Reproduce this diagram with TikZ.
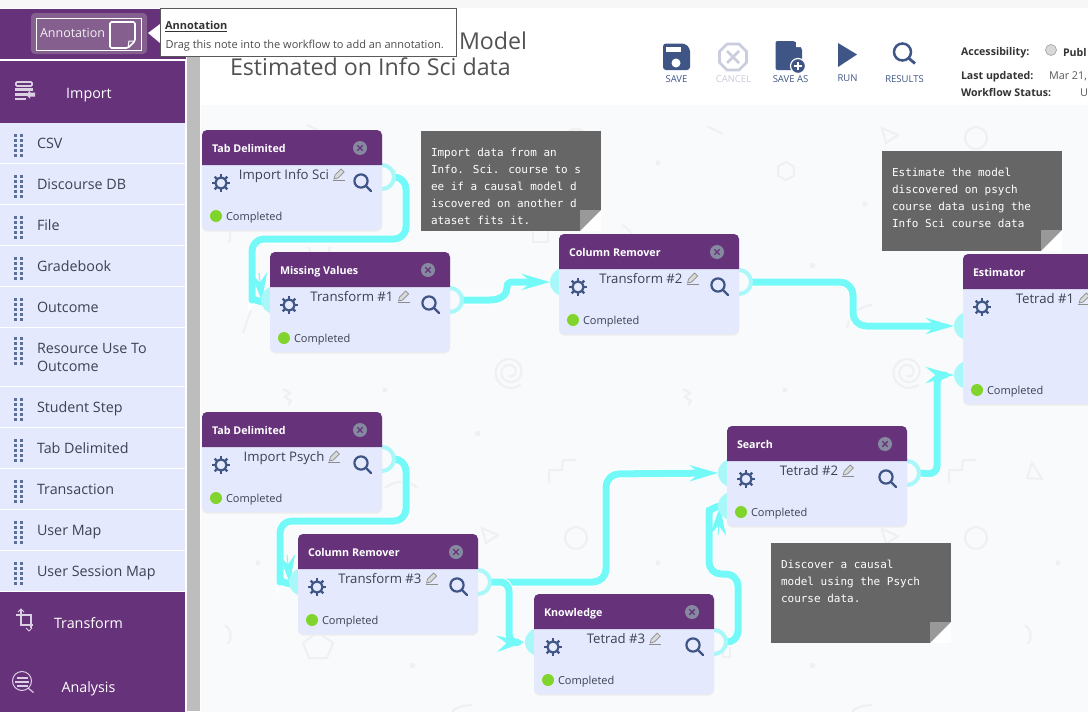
\documentclass[tikz,border=0pt]{standalone}
\usepackage{fontspec}
\setmainfont{Open Sans}
\newfontfamily\monof{DejaVu Sans Mono}
\usetikzlibrary{arrows.meta,calc}
\pgfdeclarelayer{base}
\pgfdeclarelayer{wires}
\pgfsetlayers{base,wires,main}
\definecolor{purp}{HTML}{66337A}
\definecolor{purplite}{HTML}{85608F}
\definecolor{rowc}{HTML}{E4E9FD}
\definecolor{bodyc}{HTML}{E5E9FD}
\definecolor{wirec}{HTML}{74F9F9}
\definecolor{portc}{HTML}{A8F7F9}
\definecolor{canvasc}{HTML}{F9FAFC}
\definecolor{decor}{HTML}{EFF0F1}
\definecolor{navy}{HTML}{3F5585}
\definecolor{dim}{HTML}{C9CDDD}
\definecolor{handlec}{HTML}{5B7099}
\definecolor{gutter}{HTML}{BDBDBD}
\definecolor{notec}{HTML}{666666}
\definecolor{foldc}{HTML}{999999}
\definecolor{closec}{HTML}{868AA0}
\definecolor{okc}{HTML}{80D42C}
\definecolor{txtc}{HTML}{3C4250}
\definecolor{sideic}{HTML}{DCCFE3}
\newcommand{\px}[1]{\fontsize{#1}{#1}\selectfont}
\tikzset{
  x=1pt,y=-1pt,
  txt/.style={inner sep=0pt,outer sep=0pt},
  wfbody/.style={txt,fill=bodyc,rounded corners=5pt,minimum width=180pt,anchor=north west},
  wftitle/.style={txt,anchor=base west,text=white,font=\px{10.7}\bfseries},
  wflabel/.style={txt,anchor=base,text=txtc,font=\px{13.2}},
  wfstatus/.style={txt,anchor=base west,text=txtc,font=\px{11}},
  okdot/.style={circle,fill=okc,minimum size=12pt,txt},
  closebtn/.style={circle,fill=closec,minimum size=14pt,txt},
  inport/.style={circle,fill=portc,minimum size=28pt,inner sep=0pt,outer sep=0pt},
  outport/.style={circle,draw=portc,line width=4pt,fill=canvasc,minimum size=24pt,inner sep=0pt,outer sep=0pt},
  wire/.style={draw=wirec,line width=7pt,preaction={draw=white,line width=9pt},line join=round},
  tipd/.style={-{Stealth[length=28pt,width=16pt,inset=9.5pt,fill=wirec]}},
  headonly/.style={draw=wirec,line width=1pt,tipd},
  icon/.style={draw=navy,line width=2.2pt},
  deco/.style={draw=decor,line width=2pt},
  decodot/.style={fill=decor},
  note/.style={txt,anchor=north west,align=left,text=white,font=\fontsize{11}{17}\selectfont\monof},
  sidetxt/.style={txt,anchor=base west,text=txtc,font=\px{14.3}},
  headtxt/.style={txt,anchor=base,text=white,font=\px{14.3}},
  toollab/.style={txt,anchor=base,font=\px{9.5}},
  info/.style={txt,anchor=base west,text=black!80,font=\px{10.6}\bfseries},
  infov/.style={txt,anchor=base west,text=black!65,font=\px{10.8}},
}
\newcommand{\wf}[6]{%
  \begin{scope}[shift={(#2,#3)}]
    \fill[black!7,rounded corners=5pt] (0,2) rectangle (180,#4+1.5);
    \node[wfbody,minimum height=#4pt] (#1) at (0,0) {};
    \fill[purp] (0,35) [rounded corners=5pt] -- (0,0) -- (180,0) [sharp corners] -- (180,35) -- cycle;
    \node[wftitle] (#1-t) at (10,22) {#5};
    \node[closebtn] (#1-x) at (158,18) {};
    \draw[purp,line width=1.4pt] (155.3,15.3) -- (160.7,20.7) (155.3,20.7) -- (160.7,15.3);
    \draw[icon] (19,53) circle (5.6pt);
    \foreach \a in {0,45,...,315} \draw[navy,line width=2.4pt] (19,53) ++(\a:5) -- ++(\a:4);
    \draw[icon] (159,51) circle (6.6pt);
    \draw[icon,line cap=round] (164,56) -- (169,61);
    \node[wflabel] (#1-l) at (82,49) {#6};
    \node[okdot] (#1-d) at (14,#4-14) {};
    \node[wfstatus] (#1-s) at (24,#4-10) {Completed};
  \end{scope}
  \begin{scope}[shift={(#1-l.base east)},xshift=10pt,yshift=5pt]
    \draw[black!45,fill=black!15,line width=.7pt] (-5,5) -- (-4,1) -- (2,-5) -- (5,-2) -- (-1,4) -- cycle;
    \draw[black!45,line width=.7pt] (-6,6.2) -- (6,6.2);
  \end{scope}
}
\newcommand{\rowbg}[4]{%
  \fill[rowc] (0,#1) rectangle (185,#2);
  \foreach \i in {1,...,#3} {
    \fill[handlec] (14,#4+\i*5-5) rectangle +(3,3.2);
    \fill[handlec] (20,#4+\i*5-5) rectangle +(3,3.2);
  }
}
\newcommand{\rowitem}[6]{%
  \rowbg{#2}{#3}{#5}{#6}
  \node[sidetxt] (#1) at (37,{(#2+#3)/2+5}) {#4};
}
\newcommand{\notebox}[5]{%
  \fill[notec] (#2,#3) rectangle ++(180,100);
  \fill[foldc] (#2+159,#3+100) -- ++(0,-21) -- ++(21,0) -- cycle;
  \fill[white] (#2+180,#3+79) -- ++(0,21) -- ++(-21,0) -- cycle;
  \node[note] (#1) at (#2+10,#3+#4) {#5};
}
\newcommand{\spiral}[2]{\draw[deco] plot[domain=50:830,samples=70,smooth] ({#1+(16.5-(\x-50)/62)*cos(\x)},{#2+(16.5-(\x-50)/62)*sin(\x)});}
\newcommand{\stairs}[2]{\draw[deco] (#1,#2+23) -- ++(0,-13) -- ++(13,0) -- ++(1,-10) -- ++(13,0);}
\newcommand{\tri}[2]{\draw[deco] (#1,#2) -- ++(16,7) -- ++(-12,8) -- cycle;}
\newcommand{\sqr}[2]{\fill[decodot] (#1-2.5,#2-2.5) rectangle ++(5,5);}
\newcommand{\dott}[2]{\fill[decodot] (#1,#2) circle (2.6pt);}
\begin{document}
\begin{tikzpicture}
\useasboundingbox (0,0) rectangle (1088,712);
\begin{pgfonlayer}{base}
  \fill[white] (0,0) rectangle (1088,712);
  \fill[black!3] (0,0) rectangle (1088,8);
  \fill[canvasc] (201,105) rectangle (1088,712);
  % faint background pattern
  \draw[deco] (707,126) -- (723,134);
  \draw[deco] (307,125) -- (318,130);
  \dott{658}{163}\dott{865}{204}\dott{785}{390}\dott{385}{390}\dott{258}{563}\dott{658}{563}\dott{1058}{563}
  \draw[deco] (786,162) -- (794,166.5) -- (794,175.5) -- (786,180) -- (778,175.5) -- (778,166.5) -- cycle;
  \draw[deco] (386,166) -- (395,171) -- (395,181) -- (386,186) -- (377,181) -- (377,171) -- cycle;
  \tri{882}{128}\tri{482}{528}\tri{882}{529}
  \draw[deco] (976,138) circle (11pt);
  \draw[deco] (576,140) circle (11pt);
  \draw[deco] (576,538) circle (11pt);
  \draw[deco] (976,538) circle (11pt);
  \draw[deco] (227,228) .. controls (231,233) and (231,238) .. (229,243);
  \draw[deco] (225,625) .. controls (232,631) and (232,638) .. (228,644);
  \draw[deco] (1025,625) .. controls (1032,631) and (1032,638) .. (1028,644);
  \draw[deco] (309,247) -- (313,262);
  \draw[deco] (330,247) -- (327,262);
  \draw[deco] (243,333) -- (251,310);
  \draw[deco] (533,225) rectangle (548,242);
  \draw[deco] (622,225) .. controls (628,228) and (632,233) .. (632,238);
  \draw[deco] (847,328) .. controls (849,315) and (860,306) .. (872,305);
  \spiral{510}{372}\spiral{908}{372}
  \draw[deco] (683,389) -- (690,393) -- (685,397) -- (691,401) -- (688,405);
  \draw[deco] (283,389) -- (290,393) -- (285,397) -- (291,401) -- (288,405);
  \sqr{812}{265}\sqr{477}{433}\sqr{412}{665}\sqr{812}{665}
  \stairs{949}{460}\stairs{549}{460}
  \draw[deco] (1027,478) -- (1042,479) -- (1032,463) -- cycle;
  \draw[deco] (385,488) .. controls (395,480) and (408,480) .. (418,488);
  \draw[deco] (318,632) -- (333,643) -- (327,658) -- (309,658) -- (303,643) -- cycle;
  \draw[deco] (852,712) .. controls (855,708) and (862,705) .. (872,705);
  \draw[deco] (452,712) .. controls (455,708) and (462,705) .. (472,705);
  \draw[deco] (723,647) -- (723,657) -- (730,657) -- (730,647);
\end{pgfonlayer}

% sidebar
\fill[gutter] (187,56) rectangle (200,711);
\fill[purp] (0,9) rectangle (186,59);
\fill[purp] (0,61) rectangle (185,123);
\fill[purp] (0,592) rectangle (185,712);
\rowitem{rCsv}{123}{163}{CSV}{5}{134}
\rowitem{rDisc}{164}{204}{Discourse DB}{5}{175}
\rowitem{rFile}{205}{245}{File}{5}{216}
\rowitem{rGrade}{246}{286}{Gradebook}{5}{257}
\rowitem{rOut}{287}{327}{Outcome}{5}{298}
\rowbg{328}{386}{6}{337}
\node[sidetxt] (rRes) at (37,353) {Resource Use To};
\node[sidetxt] (rRes2) at (37,371) {Outcome};
\rowitem{rStud}{387}{427}{Student Step}{5}{398}
\rowitem{rTab}{428}{468}{Tab Delimited}{5}{439}
\rowitem{rTrans}{469}{509}{Transaction}{5}{480}
\rowitem{rMap}{510}{550}{User Map}{5}{521}
\rowitem{rSess}{551}{591}{User Session Map}{5}{562}
\node[headtxt] (hImport) at (89,98) {Import};
\node[headtxt] (hTransform) at (88.5,628.5) {Transform};
\node[headtxt] (hAnalysis) at (88.5,692.5) {Analysis};
% import icon
\begin{scope}[sideic]
  \draw[line width=1.6pt,rounded corners=1pt] (16,82) rectangle (32,86);
  \fill (15,88) rectangle (33,91);
  \fill (15,93) rectangle (27,96);
  \fill (15,98) rectangle (26,99.5);
  \fill (26,94.5) -- (30,90.5) -- (30,92.5) -- (35,92.5) -- (35,96.5) -- (30,96.5) -- (30,98.5) -- cycle;
\end{scope}
% crop icon
\draw[sideic,line width=1.6pt] (16,615) -- (31,615) -- (31,628);
\draw[sideic,line width=1.6pt] (21,610) -- (21,625) -- (33,625);
\draw[sideic,line width=1pt] (18,612) -- (21,609) -- (24,612);
\draw[sideic,line width=1pt] (26,628) -- (29,631) -- (32,628);
% analysis icon
\draw[sideic,line width=1pt] (22,681) circle (9.5pt);
\fill[sideic] (16.5,676.5) rectangle (27.5,679);
\fill[sideic] (15,680.5) rectangle (29,683);
\fill[sideic] (16.5,684.5) rectangle (27.5,687);
\draw[sideic,line width=1.2pt] (28,688) -- (33.5,692.5);

% annotation button
\fill[purplite,rounded corners=4pt] (31,13) rectangle (147,54);
\draw[white,line width=1pt] (36.5,18.5) rectangle (141.5,50);
\node[txt,anchor=base west,text=white!92!purp,font=\px{12.5}] (annBtn) at (40,37) {Annotation};
\draw[white,line width=1.6pt,rounded corners=1.5pt] (110,22) -- (135,22) -- (135,41) -- (128,48) -- (110,48) -- cycle;
\draw[white,line width=1pt] (135,41) -- (129,41) -- (128,48);

% tooltip
\fill[white] (148,33) -- (160,24) -- (160,43) -- cycle;
\draw[black!65,fill=white,line width=.8pt] (160,8.5) rectangle (456.5,56);
\node[txt,anchor=base west,text=black!80,font=\px{11}\bfseries] (ttTitle) at (165,30) {\underline{Annotation}};
\node[txt,anchor=base west,text=black!70,font=\px{11}] (ttText) at (165.5,48) {Drag this note into the workflow to add an annotation.};

% heading
\node[txt,anchor=base west,text=black!68,font=\px{23.2}] (title1) at (459,49.5) {Model};
\node[txt,anchor=base west,text=black!68,font=\px{23.2}] (title2) at (230,75.5) {Estimated on Info Sci data};

% toolbar
\fill[navy,rounded corners=3pt] (663,43.5) -- (685,43.5) -- (690,48.5) -- (690,70) -- (663,70) -- cycle;
\fill[white] (666,47) rectangle (681,52);
\fill[white] (676,63) circle (4.5pt);
\node[toollab,text=navy] (lSave) at (676.5,82) {SAVE};
\draw[dim,line width=2.8pt] (727,44) -- (739,44) -- (746.5,51.5) -- (746.5,62.5) -- (739,70) -- (727,70) -- (719.5,62.5) -- (719.5,51.5) -- cycle;
\draw[dim,line width=2.6pt] (727,51) -- (739,63) (727,63) -- (739,51);
\node[toollab,text=dim] (lCancel) at (733.5,82) {CANCEL};
\fill[navy,rounded corners=2pt] (775.5,41) -- (795,41) -- (802,48) -- (802,70) -- (775.5,70) -- cycle;
\fill[white] (796,41) -- (802,47) -- (796,47) -- cycle;
\draw[white,fill=navy,line width=1.2pt] (798,66) circle (7.5pt);
\draw[white,line width=1.5pt] (794,66) -- (802,66) (798,62) -- (798,70);
\node[toollab,text=navy] (lSaveAs) at (790.5,82) {SAVE AS};
\fill[navy] (838,43) -- (857,54.5) -- (838,67) -- cycle;
\node[toollab,text=navy] (lRun) at (847.5,81) {RUN};
\draw[navy,line width=2.5pt] (902.5,52) circle (8.5pt);
\draw[navy,line width=2.8pt] (908.5,58) -- (915,63.5);
\node[toollab,text=navy] (lResults) at (904.5,82) {RESULTS};

% status
\node[info] (iAcc) at (961,56) {Accessibility:};
\draw[black!35,fill=black!15,line width=.7pt] (1051,50) circle (5.5pt);
\node[info] (iPub) at (1063,56.5) {Publ};
\node[info] (iLast) at (961,79) {Last updated:};
\node[infov] (iDate) at (1049,79) {Mar 21,};
\node[info] (iWf) at (961,96) {Workflow Status:};
\node[infov] (iU) at (1080,96) {U};

% ports (drawn before the cards, which sit over them)
\node[outport] (aO) at (382,177) {};
\node[inport] (bI) at (275,300) {};
\node[outport] (bO) at (450,300) {};
\node[inport] (cI) at (564,282) {};
\node[outport] (cO) at (739,282) {};
\node[inport] (dI) at (968,326) {};
\node[inport] (dJ) at (968,375) {};
\node[outport] (eO) at (382,459) {};
\node[inport] (fI) at (303,582) {};
\node[outport] (fO) at (478,582) {};
\node[inport] (gI) at (732,473) {};
\node[inport] (gJ) at (732,506) {};
\node[outport] (gO) at (907,473) {};
\node[inport] (hI) at (539,642) {};
\node[outport] (hO) at (714,642) {};

% cards
\wf{a}{202}{130}{100}{Tab Delimited}{Import Info Sci}
\wf{b}{270}{252}{100}{Missing Values}{Transform \#1}
\wf{c}{559}{234}{100}{Column Remover}{Transform \#2}
\wf{d}{963}{254}{150}{Estimator}{Tetrad \#1}
\wf{e}{202}{412}{100}{Tab Delimited}{Import Psych}
\wf{f}{298}{534}{100}{Column Remover}{Transform \#3}
\wf{g}{727}{426}{100}{Search}{Tetrad \#2}
\wf{h}{534}{594}{100}{Knowledge}{Tetrad \#3}

% notes
\notebox{nA}{421}{131}{17.2}{Import data from an\\Info. Sci. course to s\\ee if a causal model d\\iscovered on another d\\ataset fits it.}
\notebox{nB}{882}{151}{17.2}{Estimate the model\\discovered on psych\\course data using the\\Info Sci course data}
\notebox{nC}{771}{543}{17.2}{Discover a causal\\model using the Psych\\course data.}

% connectors
\begin{pgfonlayer}{wires}
  \draw[wire] [rounded corners=12pt] (aO.east) -- (406,177) -- (406,239) -- (252,239) -- (252,288) [sharp corners] .. controls (252,297) and (256,302) .. (266,302);
  \draw[headonly] ($(bI.west)+(-2,-27)$) -- ($(bI.west)+(1,1)$);
  \draw[wire,tipd] (bO.east) -- (490,300) .. controls (500,300) and (507,295) .. (507,288) .. controls (507,284) .. (511,282) -- (cI.west);
  \draw[wire,tipd] [rounded corners=13pt] (cO.east) -- (853,282) -- (853,326) -- (dI.west);
  \draw[wire,tipd] [rounded corners=8pt] (gO.east) -- (937,474) -- (937,375) -- (dJ.west);
  \draw[wire] [rounded corners=12pt] (eO.east) -- (406,459) -- (406,521) -- (280,521) -- (280,570) [sharp corners] .. controls (280,579) and (284,584) .. (294,584);
  \draw[headonly] ($(fI.west)+(-2,-27)$) -- ($(fI.west)+(1,1)$);
  \draw[wire,tipd] [rounded corners=13pt] (fO.east) -- (606,582) -- (606,474) -- (gI.west);
  \draw[wire,tipd] [rounded corners=9pt] (fO.east) -- (509,582) -- (509,643) -- (hI.west);
  \draw[wire] [rounded corners=12pt] (hO.east) -- (738,643) -- (738,574) -- (709,574) -- (709,522) [sharp corners] .. controls (709,512) and (714,506) .. (722,506);
  \draw[headonly] ($(gJ.west)+(0,29)$) -- ($(gJ.west)+(2,1)$);
\end{pgfonlayer}
\end{tikzpicture}
\end{document}
